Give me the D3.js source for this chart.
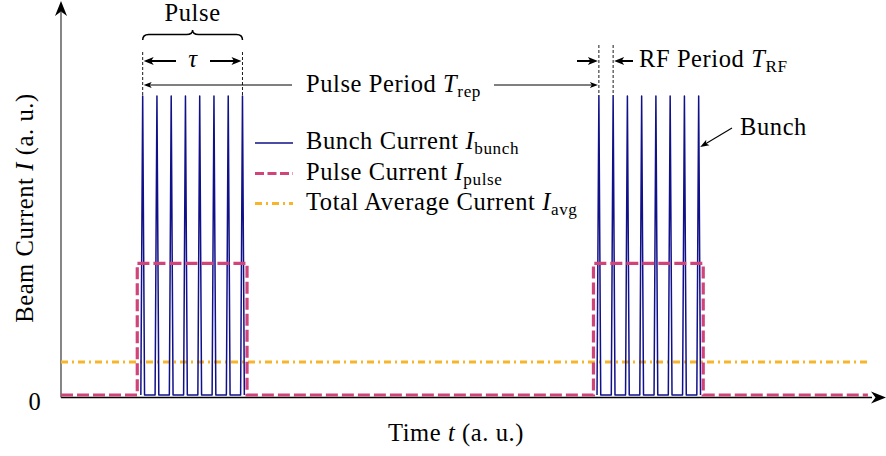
<!DOCTYPE html>
<html><head><meta charset="utf-8">
<script src="https://cdn.jsdelivr.net/npm/d3@7"></script>
<style>
body{margin:0;background:#fff}
svg text{font-family:"Liberation Serif","Times New Roman",serif;fill:#000;letter-spacing:0.6px}
</style>
</head><body>
<svg id="c" width="886" height="456"></svg>
<script>
// ---------- data (time in RF periods, current in a.u.) ----------
const bunchTimes = [5.73, 6.73, 7.73, 8.73, 9.73, 10.73, 11.73, 12.73,
                    37.73, 38.73, 39.73, 40.73, 41.73, 42.73, 43.73, 44.73];
const bunchPeak = 1.0;
const pulseT = [0, 5.35, 5.35, 13.05, 13.05, 37.35, 37.35, 45.05, 45.05, 56.6];
const pulseI = [0, 0, 0.44, 0.44, 0, 0, 0.44, 0.44, 0, 0];
const avgT = [0, 56.6];
const avgI = [0.11, 0.11];
const yTickValues = [0];
const yTickLabels = ["0"];
const legendLabels = [
  {main: "Bunch Current ", sym: "I", sub: "bunch"},
  {main: "Pulse Current ", sym: "I", sub: "pulse"},
  {main: "Total Average Current ", sym: "I", sub: "avg"}
];

// ---------- styles ----------
const C_BUNCH = "#10108a", C_PULSE = "#d0447a", C_AVG = "#f6b52a";
const FS = 24.5;

const svg = d3.select("#c");
const x = d3.scaleLinear().domain([0, 57.8]).range([61, 885]);
const y = d3.scaleLinear().domain([0, 1]).range([395, 96]);
const axisY = 397.5, axisX = 61;

function head(g, tx, ty, ang, len, hw, inset) {
  const ca = Math.cos(ang), sa = Math.sin(ang);
  const p = (u, v) => [tx - u * ca - v * sa, ty - u * sa + v * ca];
  const a = p(len, -hw), b = p(len * inset, 0), c = p(len, hw);
  g.append("path").attr("d", `M${tx},${ty}L${a}L${b}L${c}Z`).attr("fill", "#000");
}
function arrow(g, x1, y1, x2, y2, w, len, hw) {
  const ang = Math.atan2(y2 - y1, x2 - x1);
  g.append("line").attr("x1", x1).attr("y1", y1)
    .attr("x2", x2 - Math.cos(ang) * len * 0.6).attr("y2", y2 - Math.sin(ang) * len * 0.6)
    .attr("stroke", "#000").attr("stroke-width", w);
  head(g, x2, y2, ang, len, hw, 0.75);
}
function richText(g, tx, ty, parts, anchor) {
  const t = g.append("text").attr("x", tx).attr("y", ty).attr("font-size", FS)
    .attr("text-anchor", anchor || "start");
  parts.forEach(p => {
    const s = t.append("tspan").text(p.t);
    if (p.i) s.attr("font-style", "italic");
    if (p.sub) s.attr("font-size", FS * 0.7).attr("dy", 5);
    if (p.up) s.attr("dy", -5);
  });
  return t;
}

// ---------- axes ----------
const ax = svg.append("g");
ax.append("line").attr("x1", axisX).attr("x2", 872).attr("y1", axisY).attr("y2", axisY)
  .attr("stroke", "#000").attr("stroke-width", 1.3);
head(ax, 886, axisY, 0, 15, 6, 0.7);
ax.append("line").attr("x1", axisX).attr("x2", axisX).attr("y1", axisY).attr("y2", 12)
  .attr("stroke", "#444").attr("stroke-width", 1.3);
head(ax, axisX, 1, -Math.PI / 2, 15, 6, 0.7);

yTickValues.forEach((v, i) => {
  svg.append("text").attr("x", 35).attr("y", y(v) + 15).attr("font-size", FS)
    .attr("text-anchor", "middle").text(yTickLabels[i]);
});

// ---------- series ----------
const line = d3.line().x(d => x(d[0])).y(d => y(d[1]));
svg.append("path").datum(avgT.map((t, i) => [t, avgI[i]])).attr("d", line)
  .attr("fill", "none").attr("stroke", C_AVG).attr("stroke-width", 3)
  .attr("stroke-dasharray", "7,4,2,4");

// group bunches into pulses
const groups = [];
bunchTimes.forEach((t, i) => {
  if (i === 0 || t - bunchTimes[i - 1] > 1.5) groups.push([]);
  groups[groups.length - 1].push(t);
});
const hw = 0.13;
groups.forEach(g => {
  const pts = [];
  g.forEach(c => { pts.push([c - hw, 0], [c, bunchPeak], [c + hw, 0]); });
  svg.append("path").datum(pts).attr("d", line).attr("fill", "none")
    .attr("stroke", C_BUNCH).attr("stroke-width", 1.5).attr("stroke-linejoin", "round");
});

svg.append("path").datum(pulseT.map((t, i) => [t, pulseI[i]])).attr("d", line)
  .attr("fill", "none").attr("stroke", C_PULSE).attr("stroke-width", 3.2)
  .attr("stroke-dasharray", "12,4");

// ---------- annotations ----------
const an = svg.append("g");
const p1a = x(groups[0][0]), p1b = x(groups[0][groups[0].length - 1]);
const p2a = x(groups[1][0]), p2b = x(groups[1][1]);
const topY = y(bunchPeak);
[[p1a, 52], [p1b, 52], [p2a, 45], [p2b, 45]].forEach(([px, y0]) => {
  an.append("line").attr("x1", px).attr("x2", px).attr("y1", y0).attr("y2", topY)
    .attr("stroke", "#000").attr("stroke-width", 0.9).attr("stroke-dasharray", "3,2");
});
// brace
const mid = (p1a + p1b) / 2;
an.append("path").attr("d",
  `M${p1a},40 Q${p1a},34.5 ${p1a + 6},34.5 L${mid - 6},34.5 Q${mid},34.5 ${mid},30 ` +
  `Q${mid},34.5 ${mid + 6},34.5 L${p1b - 6},34.5 Q${p1b},34.5 ${p1b},40`)
  .attr("fill", "none").attr("stroke", "#000").attr("stroke-width", 1.5);
richText(an, mid, 21, [{t: "Pulse"}], "middle");
// tau
arrow(an, 176, 61, p1a + 1, 61, 2, 10, 4);
arrow(an, 210, 61, p1b - 1, 61, 2, 10, 4);
richText(an, 193, 67, [{t: "τ", i: true}], "middle");
// pulse period
arrow(an, 292, 85, p1a + 1, 85, 1, 8, 3);
arrow(an, 494, 85, p2a - 1, 85, 1, 8, 3);
richText(an, 306, 92, [{t: "Pulse Period "}, {t: "T", i: true}, {t: "rep", sub: true}]);
// RF period
arrow(an, 577, 61, p2a - 1, 61, 2, 10, 4);
arrow(an, 633, 61, p2b + 1, 61, 2, 10, 4);
richText(an, 639, 67, [{t: "RF Period "}, {t: "T", i: true}, {t: "RF", sub: true}]);
// bunch
arrow(an, 732, 128, x(groups[1][groups[1].length - 1]) + 1.5, 147, 1.1, 9, 3.2);
richText(an, 740, 135, [{t: "Bunch"}]);

// ---------- legend ----------
const lg = svg.append("g");
const legY = [143, 173.5, 203.5];
const legStyle = [
  {c: C_BUNCH, w: 1.6, d: null},
  {c: C_PULSE, w: 3, d: "9,3.5"},
  {c: C_AVG, w: 2.8, d: "7,4,2,4"}
];
legendLabels.forEach((L, i) => {
  lg.append("line").attr("x1", 255).attr("x2", 293).attr("y1", legY[i]).attr("y2", legY[i])
    .attr("stroke", legStyle[i].c).attr("stroke-width", legStyle[i].w)
    .attr("stroke-dasharray", legStyle[i].d);
  richText(lg, 306, legY[i] + 6, [{t: L.main}, {t: L.sym, i: true}, {t: L.sub, sub: true}]);
});

// ---------- axis titles ----------
richText(svg, 456, 441, [{t: "Time "}, {t: "t", i: true}, {t: " (a. u.)"}], "middle");
const yl = svg.append("g").attr("transform", "translate(33,208) rotate(-90)");
richText(yl, 0, 0, [{t: "Beam Current "}, {t: "I", i: true}, {t: " (a. u.)"}], "middle");
</script>
</body></html>
